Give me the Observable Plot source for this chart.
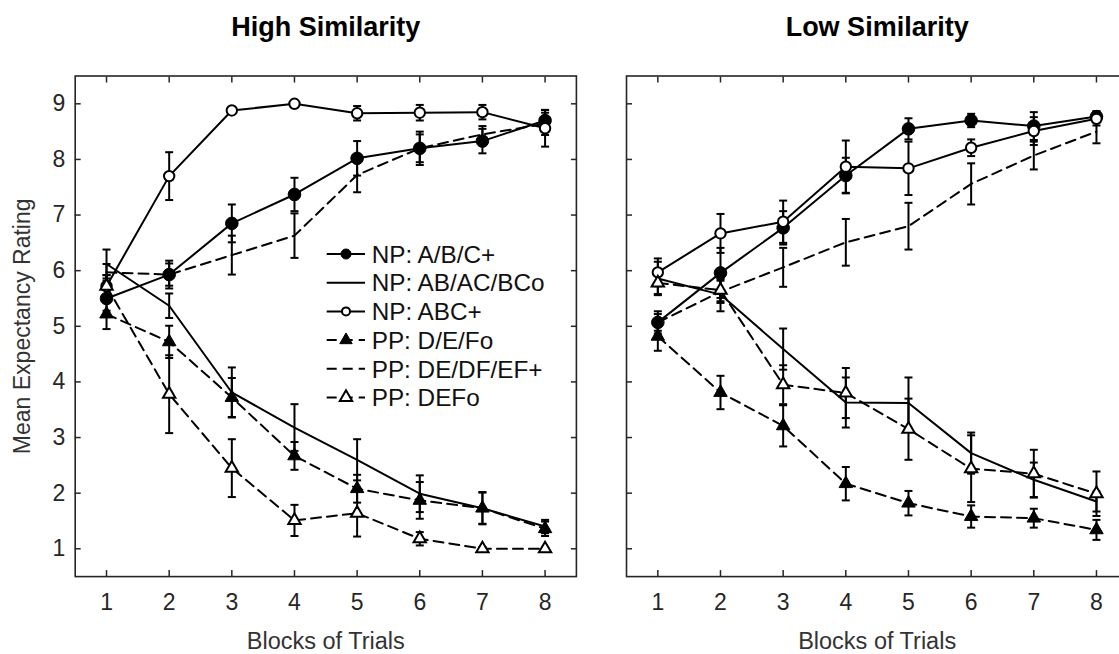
<!DOCTYPE html>
<html><head><meta charset="utf-8">
<script src="https://cdn.jsdelivr.net/npm/d3@7"></script>
<script src="https://cdn.jsdelivr.net/npm/@observablehq/plot@0.6"></script>
<style>
html,body{margin:0;padding:0;background:#fff;overflow:hidden;}
#wrap{position:relative;width:1119px;height:654px;overflow:hidden;font-family:"Liberation Sans",Arial,sans-serif;}
#wrap > svg, #wrap > figure{position:absolute;top:0;margin:0;}
</style></head><body><div id="wrap"></div>
<script>
// ---------- data ----------
const blocks = [1, 2, 3, 4, 5, 6, 7, 8];
const yTicks = [1, 2, 3, 4, 5, 6, 7, 8, 9];
const seriesNames = ["NP: A/B/C+", "NP: AB/AC/BCo", "NP: ABC+", "PP: D/E/Fo", "PP: DE/DF/EF+", "PP: DEFo"];
const panelTitles = ["High Similarity", "Low Similarity"];
const xLabel = "Blocks of Trials";
const yLabel = "Mean Expectancy Rating";

// High Similarity: means and error bar half-lengths
const highABC_plus   = [5.50, 5.93, 6.85, 7.37, 8.02, 8.20, 8.33, 8.70];
const highABC_plusE  = [0.22, 0.25, 0.34, 0.30, 0.31, 0.30, 0.22, 0.19];
const highAB_o       = [6.12, 5.37, 3.81, 3.18, 2.60, 1.99, 1.73, 1.40];
const highAB_oE      = [0.26, 0.22, 0.45, 0.42, 0.37, 0.33, 0.28, 0.12];
const highCompound   = [5.72, 7.70, 8.88, 9.00, 8.83, 8.84, 8.85, 8.56];
const highCompoundE  = [0.20, 0.43, 0.06, 0.05, 0.13, 0.14, 0.13, 0.33];
const highDEF_o      = [5.22, 4.72, 3.72, 2.67, 2.08, 1.87, 1.73, 1.36];
const highDEF_oE     = [0.27, 0.29, 0.35, 0.25, 0.25, 0.33, 0.29, 0.13];
const highDE_plus    = [5.97, 5.93, 6.28, 6.63, 7.72, 8.20, 8.45, 8.64];
const highDE_plusE   = [0.15, 0.20, 0.35, 0.40, 0.31, 0.25, 0.15, 0.20];
const highDEFo       = [5.72, 3.78, 2.45, 1.51, 1.64, 1.18, 1.00, 1.00];
const highDEFoE      = [0.20, 0.70, 0.52, 0.28, 0.42, 0.12, 0.03, 0.03];

// Low Similarity
const lowABC_plus    = [5.07, 5.96, 6.77, 7.71, 8.55, 8.70, 8.60, 8.77];
const lowABC_plusE   = [0.20, 0.45, 0.30, 0.32, 0.19, 0.12, 0.25, 0.10];
const lowAB_o        = [5.86, 5.57, 4.59, 3.63, 3.62, 2.72, 2.24, 1.85];
const lowAB_oE       = [0.30, 0.30, 0.37, 0.45, 0.46, 0.37, 0.31, 0.18];
const lowCompound    = [5.97, 6.67, 6.88, 7.87, 7.84, 8.21, 8.51, 8.73];
const lowCompoundE   = [0.25, 0.35, 0.38, 0.47, 0.48, 0.15, 0.25, 0.12];
const lowDEF_o       = [4.82, 3.81, 3.21, 2.17, 1.82, 1.58, 1.55, 1.34];
const lowDEF_oE      = [0.26, 0.30, 0.37, 0.30, 0.22, 0.20, 0.17, 0.18];
const lowDE_plus     = [5.07, 5.62, 6.06, 6.51, 6.80, 7.56, 8.07, 8.50];
const lowDE_plusE    = [0.15, 0.20, 0.35, 0.42, 0.42, 0.37, 0.25, 0.21];
const lowDEFo        = [5.78, 5.65, 3.95, 3.80, 3.15, 2.44, 2.35, 1.99];
const lowDEFoE       = [0.20, 0.20, 0.35, 0.45, 0.55, 0.60, 0.43, 0.40];

// ---------- styles ----------
const seriesStyle = {
  "NP: A/B/C+":    {dashed: false, marker: "circle",   filled: true},
  "NP: AB/AC/BCo": {dashed: false, marker: null},
  "NP: ABC+":      {dashed: false, marker: "circle",   filled: false},
  "PP: D/E/Fo":    {dashed: true,  marker: "triangle", filled: true},
  "PP: DE/DF/EF+": {dashed: true,  marker: null},
  "PP: DEFo":      {dashed: true,  marker: "triangle", filled: false}
};
const DASH = "10,6";
const INK = "#000";
const AXIS = "#262626";

function buildRows(means, errs) {
  const rows = [];
  seriesNames.forEach((s, i) => {
    blocks.forEach((b, j) => rows.push({series: s, x: b, y: means[i][j], e: errs[i][j], ...seriesStyle[s]}));
  });
  return rows;
}
const highRows = buildRows(
  [highABC_plus, highAB_o, highCompound, highDEF_o, highDE_plus, highDEFo],
  [highABC_plusE, highAB_oE, highCompoundE, highDEF_oE, highDE_plusE, highDEFoE]);
const lowRows = buildRows(
  [lowABC_plus, lowAB_o, lowCompound, lowDEF_o, lowDE_plus, lowDEFo],
  [lowABC_plusE, lowAB_oE, lowCompoundE, lowDEF_oE, lowDE_plusE, lowDEFoE]);

const capSymbol = {draw(ctx, size) { const w = Math.sqrt(size / Math.PI); ctx.moveTo(-w, 0); ctx.lineTo(w, 0); }};

function panel(rows, {title, width, marginLeft, marginRight, showYLabels}) {
  const marginTop = 75.5, marginBottom = 77.9;
  return Plot.plot({
    width, height: 654, marginLeft, marginRight, marginTop, marginBottom,
    x: {domain: [0.5, 8.5]},
    y: {domain: [0.5, 9.5]},
    style: {fontFamily: '"Liberation Sans", Arial, sans-serif', color: AXIS, background: "transparent", overflow: "visible"},
    marks: [
      // error bars
      Plot.ruleX(rows, {x: "x", y1: d => d.y - d.e, y2: d => d.y + d.e, stroke: INK, strokeWidth: 2}),
      Plot.dot(rows, {x: "x", y: d => d.y - d.e, symbol: capSymbol, r: 4, fill: "none", stroke: INK, strokeWidth: 2}),
      Plot.dot(rows, {x: "x", y: d => d.y + d.e, symbol: capSymbol, r: 4, fill: "none", stroke: INK, strokeWidth: 2}),
      // lines
      Plot.line(rows.filter(d => !d.dashed), {x: "x", y: "y", z: "series", stroke: INK, strokeWidth: 2}),
      Plot.line(rows.filter(d => d.dashed), {x: "x", y: "y", z: "series", stroke: INK, strokeWidth: 2, strokeDasharray: DASH}),
      // markers
      Plot.dot(rows.filter(d => d.marker === "circle" && d.filled), {x: "x", y: "y", symbol: "circle", r: 6.3, fill: INK, stroke: INK, strokeWidth: 1}),
      Plot.dot(rows.filter(d => d.marker === "circle" && !d.filled), {x: "x", y: "y", symbol: "circle", r: 5.2, fill: "white", stroke: INK, strokeWidth: 2}),
      Plot.dot(rows.filter(d => d.marker === "triangle" && d.filled), {x: "x", y: "y", symbol: "triangle", r: 5, fill: INK, stroke: INK, strokeWidth: 1}),
      Plot.dot(rows.filter(d => d.marker === "triangle" && !d.filled), {x: "x", y: "y", symbol: "triangle", r: 4.6, fill: "white", stroke: INK, strokeWidth: 2}),
      // frame and axes (ticks inward)
      Plot.frame({stroke: AXIS, strokeWidth: 1.6}),
      Plot.axisX({anchor: "bottom", ticks: blocks, tickSize: -6, tickPadding: 23, fontSize: 23, label: null, strokeWidth: 1.5}),
      Plot.axisX({anchor: "top", ticks: blocks, tickSize: -6, tickFormat: () => "", label: null, strokeWidth: 1.5}),
      Plot.axisY({anchor: "left", ticks: yTicks, tickSize: -6, tickPadding: 16, fontSize: 23, label: null, strokeWidth: 1.5,
        tickFormat: showYLabels ? (d => String(d)) : (() => "")}),
      Plot.axisY({anchor: "right", ticks: yTicks, tickSize: -6, tickFormat: () => "", label: null, strokeWidth: 1.5}),
      // titles / labels
      Plot.text([title], {frameAnchor: "top", lineAnchor: "middle", dy: -48.5, text: d => d, fontSize: 27, fontWeight: "bold", fill: "#000"}),
      Plot.text([xLabel], {frameAnchor: "bottom", lineAnchor: "middle", dy: 65, text: d => d, fontSize: 23.5, fill: "#333"}),
      ...(showYLabels ? [Plot.text([yLabel], {frameAnchor: "left", textAnchor: "middle", lineAnchor: "middle", dx: -52.7, rotate: -90, text: d => d, fontSize: 23, fill: "#333"})] : [])
    ]
  });
}

const wrap = document.getElementById("wrap");
const left = panel(highRows, {title: panelTitles[0], width: 600, marginLeft: 74.7, marginRight: 24.1, showYLabels: true});
left.style.left = "0px";
wrap.appendChild(left);
const right = panel(lowRows, {title: panelTitles[1], width: 560, marginLeft: 26, marginRight: 32.7, showYLabels: false});
right.style.left = "600px";
wrap.appendChild(right);

// ---------- legend (overlay inside the left panel) ----------
const lg = d3.select(wrap).append("svg")
  .attr("width", 260).attr("height", 185)
  .style("position", "absolute").style("left", "320px").style("top", "236px")
  .style("font-family", '"Liberation Sans", Arial, sans-serif');
seriesNames.forEach((s, i) => {
  const st = seriesStyle[s];
  const g = lg.append("g").attr("transform", `translate(0,${18 + i * 28.7})`);
  g.append("line").attr("x1", 6.7).attr("x2", 45).attr("y1", 0).attr("y2", 0)
    .attr("stroke", INK).attr("stroke-width", 2).attr("stroke-dasharray", st.dashed ? DASH : null);
  if (st.marker) {
    const sym = d3.symbol().type(st.marker === "circle" ? d3.symbolCircle : d3.symbolTriangle)
      .size(st.marker === "circle" ? Math.PI * (st.filled ? 5 : 4) ** 2 : Math.PI * 4.6 ** 2);
    g.append("path").attr("d", sym()).attr("transform", "translate(26,0)")
      .attr("fill", st.filled ? INK : "white").attr("stroke", INK).attr("stroke-width", st.filled ? 1 : 2);
  }
  g.append("text").attr("x", 51.7).attr("y", 0).attr("dy", "0.36em")
    .attr("font-size", 24.3).attr("fill", "#111").text(s);
});
</script>
</body></html>
